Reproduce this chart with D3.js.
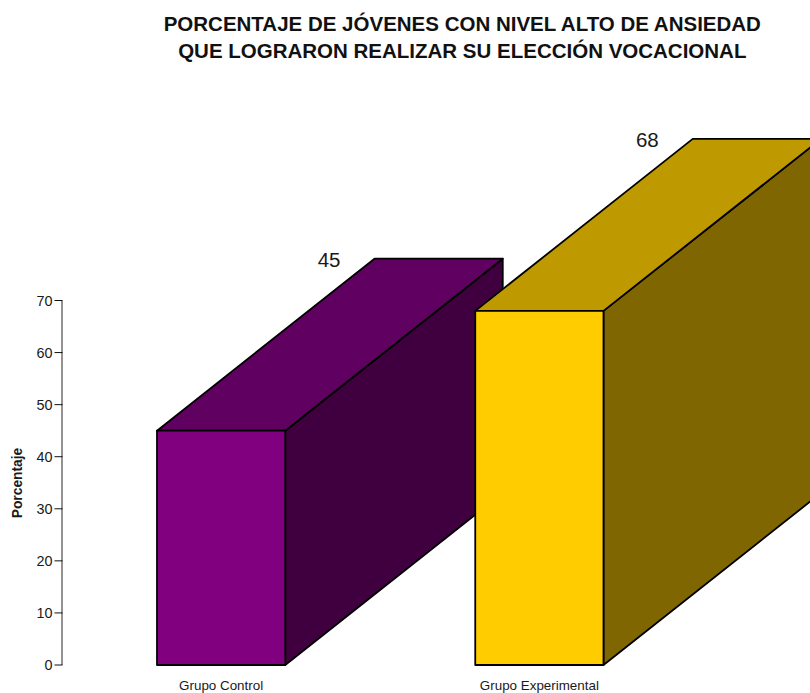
<!DOCTYPE html>
<html><head><meta charset="utf-8">
<script src="https://cdn.jsdelivr.net/npm/d3@7"></script>
<style>html,body{margin:0;padding:0;background:#fff}svg{display:block}text{font-family:"Liberation Sans",Arial,sans-serif;fill:#1a1a1a}</style>
</head><body><script>
const categories = ["Grupo Control", "Grupo Experimental"];
const values = [45, 68];
const yTicks = [0, 10, 20, 30, 40, 50, 60, 70];
const frontColors = ["#800080", "#ffcc00"];
const topColors = ["#600060", "#bf9900"];
const sideColors = ["#400040", "#806600"];
const titleLines = ["PORCENTAJE DE JÓVENES CON NIVEL ALTO DE ANSIEDAD", "QUE LOGRARON REALIZAR SU ELECCIÓN VOCACIONAL"];
const yTitle = "Porcentaje";

const W = 810, H = 693, depthX = 217.5, depthY = 172;
const svg = d3.select("body").append("svg").attr("width", W).attr("height", H);
const x = d3.scaleBand().domain(categories).range([157, 603.5]).paddingInner(0.597).paddingOuter(0);
const y = d3.scaleLinear().domain([0, 70]).range([665, 300.5]);

svg.append("g").selectAll("text").data(titleLines).join("text")
  .attr("x", 462.3).attr("y", (d, i) => 31 + i * 26.5)
  .attr("text-anchor", "middle").attr("font-size", 20.5).attr("font-weight", "bold").style("fill", "#111").text(d => d);

const axis = svg.append("g");
axis.append("line").attr("x1", 62).attr("x2", 62).attr("y1", y(70)).attr("y2", y(0)).attr("stroke", "#777").attr("stroke-width", 1.6);
const t = axis.selectAll("g").data(yTicks).join("g").attr("transform", d => `translate(0,${y(d)})`);
t.append("line").attr("x1", 54.5).attr("x2", 62.5).attr("stroke", "#111").attr("stroke-width", 1);
t.append("text").attr("x", 52.5).attr("dy", "0.36em").attr("text-anchor", "end").attr("font-size", 14.4).text(d => d);
svg.append("text").attr("transform", "translate(21.5,483) rotate(-90)").attr("text-anchor", "middle").attr("font-size", 13.8).attr("font-weight", "bold").text(yTitle);

const bars = svg.append("g").selectAll("g").data(categories).join("g");
const poly = pts => pts.map(p => p.join(",")).join(" ");
const stroke = s => s.attr("stroke", "#000").attr("stroke-width", 1.8).attr("stroke-linejoin", "round");
bars.append("polygon").attr("fill", (d, i) => sideColors[i]).call(stroke).attr("points", (d, i) => {
  const r = x(d) + x.bandwidth(), T = y(values[i]), B = y(0);
  return poly([[r, T], [r + depthX, T - depthY], [r + depthX, B - depthY], [r, B]]);
});
bars.append("polygon").attr("fill", (d, i) => topColors[i]).call(stroke).attr("points", (d, i) => {
  const l = x(d), r = l + x.bandwidth(), T = y(values[i]);
  return poly([[l, T], [l + depthX, T - depthY], [r + depthX, T - depthY], [r, T]]);
});
bars.append("rect").attr("x", d => x(d)).attr("y", (d, i) => y(values[i])).attr("width", x.bandwidth()).attr("height", (d, i) => y(0) - y(values[i])).attr("fill", (d, i) => frontColors[i]).call(stroke);
bars.append("text").attr("x", d => x(d) + x.bandwidth() / 2 + 108).attr("y", (d, i) => y(values[i]) - depthY + 8).attr("text-anchor", "middle").attr("font-size", 20.5).text((d, i) => values[i]);
bars.append("text").attr("x", d => x(d) + x.bandwidth() / 2).attr("y", 689.5).attr("text-anchor", "middle").attr("font-size", 13.4).text(d => d);
</script></body></html>
